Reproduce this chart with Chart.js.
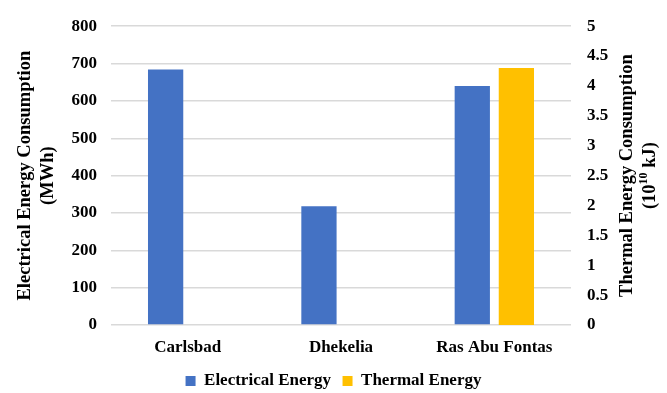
<!DOCTYPE html>
<html>
<head>
<meta charset="utf-8">
<script src="https://cdn.jsdelivr.net/npm/chart.js@4"></script>
<style>
  html, body { margin: 0; padding: 0; background: #ffffff; }
  #wrap { width: 667px; height: 393px; }
</style>
</head>
<body>
<div id="wrap"><canvas id="chart" width="667" height="393"></canvas></div>
<script>
// Plants and their energy consumption
const plants = ['Carlsbad', 'Dhekelia', 'Ras Abu Fontas'];
const electricalMWh = [684, 318, 640];          // MWh
const thermal1e10kJ = [null, null, 4.3];         // 10^10 kJ
const seriesNames = ['Electrical Energy', 'Thermal Energy'];
const leftTitle = ['Electrical Energy Consumption', '(MWh)'];
const rightTitle = 'Thermal Energy Consumption';

const SERIF = "'Liberation Serif', 'Times New Roman', serif";
const tickFont = { family: SERIF, size: 17, weight: 'bold' };

// Right-hand axis title, read bottom-to-top like the left one, with a superscript exponent
const rightTitlePlugin = {
  id: 'rightTitle',
  afterDraw(chart) {
    const { ctx, chartArea } = chart;
    const cy = (chartArea.top + chartArea.bottom) / 2;
    ctx.save();
    ctx.fillStyle = '#000';
    ctx.textBaseline = 'middle';
    ctx.textAlign = 'center';
    ctx.font = `bold 18.5px ${SERIF}`;
    ctx.translate(627, cy);
    ctx.rotate(-Math.PI / 2);
    ctx.fillText(rightTitle, 0, 0);
    // second line: (10^10 kJ)
    const big = `bold 18.5px ${SERIF}`;
    const small = `bold 12px ${SERIF}`;
    const parts = [['(10', big, 0], ['10', small, -6], [' kJ)', big, 0]];
    let total = 0;
    parts.forEach(p => { ctx.font = p[1]; total += ctx.measureText(p[0]).width; });
    let x = -total / 2;
    ctx.textAlign = 'left';
    parts.forEach(p => {
      ctx.font = p[1];
      ctx.fillText(p[0], x, 23 + p[2]);
      x += ctx.measureText(p[0]).width;
    });
    ctx.restore();
  }
};

new Chart(document.getElementById('chart'), {
  type: 'bar',
  data: {
    labels: plants,
    datasets: [
      {
        label: seriesNames[0],
        data: electricalMWh,
        backgroundColor: '#4472C4',
        yAxisID: 'y',
        categoryPercentage: 0.575,
        barPercentage: 0.8
      },
      {
        label: seriesNames[1],
        data: thermal1e10kJ,
        backgroundColor: '#FFC000',
        yAxisID: 'y1',
        categoryPercentage: 0.575,
        barPercentage: 0.8
      }
    ]
  },
  options: {
    responsive: false,
    animation: false,
    layout: { padding: { top: 19, left: 0, right: 0, bottom: -6.5 } },
    plugins: {
      tooltip: { enabled: false },
      legend: {
        position: 'bottom',
        labels: {
          color: '#000',
          font: { family: SERIF, size: 17, weight: 'bold' },
          boxWidth: 10,
          boxHeight: 10,
          padding: 11.5
        }
      }
    },
    scales: {
      x: {
        grid: { display: false },
        border: { display: false },
        ticks: { color: '#000', font: tickFont, padding: 4.8 },
        afterFit(s) { s.height = 36; }
      },
      y: {
        position: 'left',
        min: 0,
        max: 800,
        ticks: { stepSize: 100, color: '#000', font: tickFont, padding: 14 },
        grid: { color: '#D9D9D9', lineWidth: 1.5, drawTicks: false },
        border: { display: false },
        title: {
          display: true,
          text: leftTitle,
          color: '#000',
          font: { family: SERIF, size: 18.5, weight: 'bold', lineHeight: 1.25 },
          padding: { top: 13.5, bottom: 0 }
        },
        afterFit(s) { s.width = 111; }
      },
      y1: {
        position: 'right',
        min: 0,
        max: 5,
        ticks: {
          stepSize: 0.5,
          color: '#000',
          font: tickFont,
          padding: 16,
          callback: (v) => String(v)
        },
        grid: { display: false, drawTicks: false },
        border: { display: false },
        afterFit(s) { s.width = 96; }
      }
    }
  },
  plugins: [rightTitlePlugin]
});
</script>
</body>
</html>
